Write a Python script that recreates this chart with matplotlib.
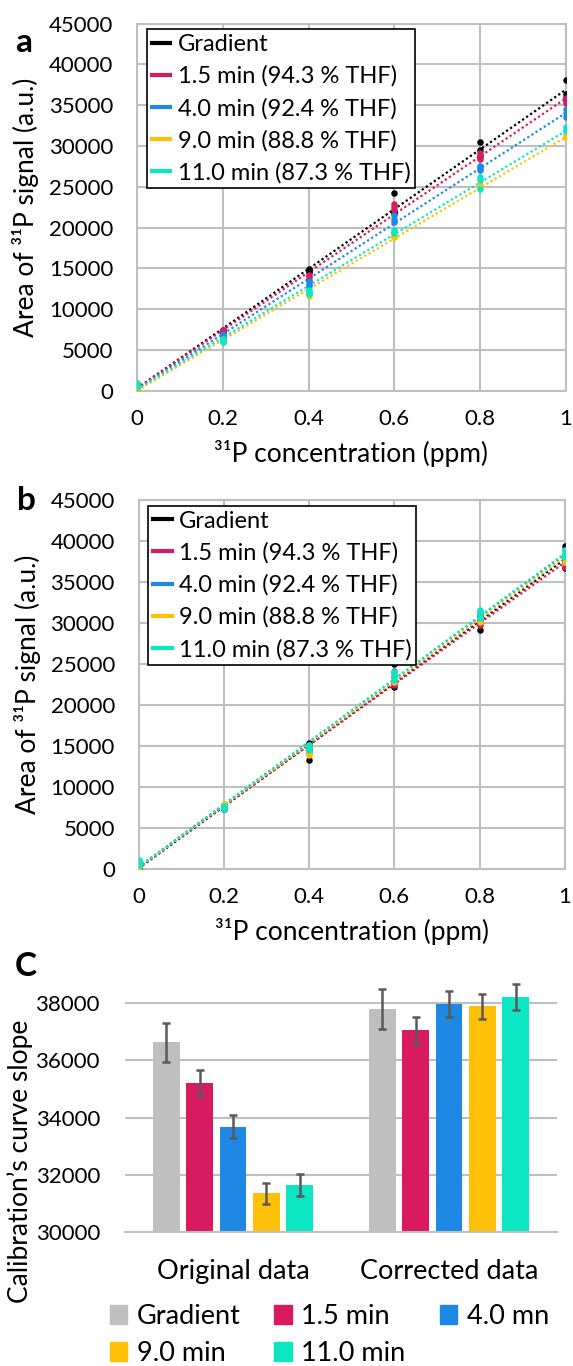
import matplotlib.pyplot as plt
import numpy as np
from matplotlib.lines import Line2D
from matplotlib.patches import Patch

plt.rcParams['font.family'] = ['Lato', 'DejaVu Sans']

conc = [0, 0.2, 0.4, 0.6, 0.8, 1.0]
series_labels = ["Gradient", "1.5 min (94.3 % THF)", "4.0 min (92.4 % THF)",
                 "9.0 min (88.8 % THF)", "11.0 min (87.3 % THF)"]
colors = ["#000000", "#D81B60", "#1E88E5", "#FFC107", "#0CE6C3"]

# panel a : raw areas, 3 replicates per concentration
raw_gradient = [[300, 500, 800], [7300, 7400, 7200], [14900, 14500, 14700],
                [24200, 22000, 21800], [30500, 29500, 28800], [38100, 36400, 36000]]
raw_15 = [[400, 600, 200], [7450, 7300, 7150], [14200, 13900, 13600],
          [22950, 22500, 22150], [29100, 28800, 28450], [35850, 35550, 35250]]
raw_40 = [[300, 500, 700], [6900, 6700, 6500], [13400, 13100, 12800],
          [21500, 21100, 20700], [27550, 27300, 27050], [34500, 34000, 33550]]
raw_90 = [[300, 600, 200], [6300, 6100, 6000], [12000, 11800, 11600],
          [19000, 18900, 18800], [25200, 25000, 24800], [31300, 31150, 31000]]
raw_110 = [[500, 800, 1000], [6300, 6200, 6000], [12300, 12100, 11900],
           [19700, 19500, 19300], [26200, 25800, 24700], [32300, 32000, 31800]]

# panel b : corrected areas
cor_gradient = [[200, 500, 800], [7600, 7500, 7300], [15400, 14600, 13300],
                [25000, 22800, 22200], [31000, 30400, 29200], [39400, 37500, 36800]]
cor_15 = [[300, 600, 900], [7700, 7500, 7300], [15000, 14600, 14200],
          [23500, 22900, 22500], [30600, 30200, 29800], [37800, 37300, 36900]]
cor_40 = [[400, 700, 1000], [7800, 7600, 7400], [15200, 14800, 14400],
          [24200, 23600, 23000], [31400, 30900, 30400], [38900, 38300, 37800]]
cor_90 = [[300, 600, 900], [8000, 7700, 7500], [14900, 14300, 14000],
          [24000, 23300, 22800], [31200, 30700, 30200], [38700, 38000, 37500]]
cor_110 = [[500, 800, 1100], [7700, 7500, 7300], [15100, 14800, 14500],
           [24100, 23600, 23100], [31600, 31100, 30600], [38900, 38500, 38100]]

# panel c : slopes
bar_groups = ["Original data", "Corrected data"]
bar_labels = ["Gradient", "1.5 min", "4.0 mn", "9.0 min", "11.0 min"]
slope_orig = [36640, 35220, 33680, 31345, 31640]
err_orig = [680, 450, 400, 360, 380]
slope_corr = [37790, 37055, 37985, 37895, 38210]
err_corr = [700, 470, 455, 440, 455]
bar_colors = ["#BFBFBF", "#D81B60", "#1E88E5", "#FFC107", "#0CE6C3"]

grid_c = "#BFBFBF"
TFS = 16     # tick labels
AFS = 19     # axis labels
LFS = 17     # legends a/b
CFS = 19.5   # category labels and legend of c

fig = plt.figure(figsize=(5.73, 13.66), dpi=100)
W, H = 573, 1366


def calib(ax, datasets):
    for data, col, lab in zip(datasets, colors, series_labels):
        xs = np.repeat(conc, 3)
        ys = np.array(data).ravel()
        ax.scatter(xs, ys, s=22, color=col, zorder=3, linewidths=0)
        k, b = np.polyfit(xs, ys, 1)
        ax.plot([0, 1], [b, k + b], ls=(0, (1, 1.2)), lw=1.6, color=col, zorder=2)
    ax.set_xlim(0, 1)
    ax.set_ylim(0, 45000)
    ax.set_xticks(conc)
    ax.set_xticklabels(["0", "0.2", "0.4", "0.6", "0.8", "1"])
    ax.set_yticks(range(0, 45001, 5000))
    ax.grid(True, color=grid_c, lw=1.5, zorder=0)
    ax.set_axisbelow(True)
    for s in ax.spines.values():
        s.set_color(grid_c)
        s.set_linewidth(1.5)
    ax.tick_params(length=0, labelsize=TFS)
    ax.tick_params(axis='y', pad=17)
    ax.tick_params(axis='x', pad=13)
    ax.set_xlabel("³¹P concentration (ppm)", fontsize=AFS, labelpad=8)
    ax.set_ylabel("Area of ³¹P signal (a.u.)", fontsize=AFS, labelpad=7)
    handles = [Line2D([], [], color=c, lw=3) for c in colors]
    leg = ax.legend(handles, series_labels, loc='upper left',
                    bbox_to_anchor=(0.023, 0.985), borderaxespad=0,
                    fontsize=LFS, handlelength=0.8, handletextpad=0.3,
                    labelspacing=0.45, borderpad=0.2, fancybox=False,
                    framealpha=1)
    leg.get_frame().set_edgecolor("black")
    leg.get_frame().set_linewidth(1.2)


ax_a = fig.add_axes([137 / W, 1 - 390.7 / H, 429 / W, 367 / H])
calib(ax_a, [raw_gradient, raw_15, raw_40, raw_90, raw_110])
ax_b = fig.add_axes([138.5 / W, 1 - 869.3 / H, 426.5 / W, 369 / H])
calib(ax_b, [cor_gradient, cor_15, cor_40, cor_90, cor_110])

ax_c = fig.add_axes([125 / W, 1 - 1231.7 / H, 432 / W, 256.9 / H])
step = 0.154
for i in range(5):
    pos = np.arange(2) + (i - 2) * step
    ax_c.bar(pos, [slope_orig[i], slope_corr[i]], width=0.1235, color=bar_colors[i],
             yerr=[err_orig[i], err_corr[i]], ecolor="#595959",
             error_kw=dict(lw=1.8, capsize=3, capthick=1.8), zorder=2,
             label=bar_labels[i])
ax_c.set_xlim(-0.5, 1.5)
ax_c.set_ylim(30000, 39000)
ax_c.set_yticks(range(30000, 38001, 2000))
ax_c.set_xticks([0, 1])
ax_c.set_xticklabels(bar_groups, fontsize=CFS)
ax_c.yaxis.grid(True, color=grid_c, lw=1.5, zorder=0)
ax_c.set_axisbelow(True)
for s in ["left", "right", "top"]:
    ax_c.spines[s].set_visible(False)
ax_c.spines["bottom"].set_color(grid_c)
ax_c.spines["bottom"].set_linewidth(1.5)
ax_c.tick_params(axis='y', length=0, labelsize=TFS, pad=18)
ax_c.tick_params(axis='x', length=0, labelsize=CFS, pad=20)
fig.text(20 / W, 1 - 1161 / H, "Calibration’s curve slope", rotation=90,
         fontsize=AFS, ha='center', va='center')

hs = [Patch(color=c) for c in bar_colors]
order = [0, 3, 1, 4, 2]
fig.legend([hs[j] for j in order], [bar_labels[j] for j in order],
           loc='upper left', bbox_to_anchor=(96 / W, 1 - 1290 / H), ncol=3,
           frameon=False, fontsize=CFS, handlelength=0.65, handleheight=0.7,
           handletextpad=0.35, columnspacing=1.25, labelspacing=0.45, borderpad=0)

fig.text(15 / W, 1 - 42 / H, "a", fontsize=24, fontweight='bold', va='center')
fig.text(17 / W, 1 - 500 / H, "b", fontsize=24, fontweight='bold', va='center')
fig.text(15 / W, 1 - 967 / H, "C", fontsize=24, fontweight='bold', va='center')

fig.savefig("out.png", dpi=100)
